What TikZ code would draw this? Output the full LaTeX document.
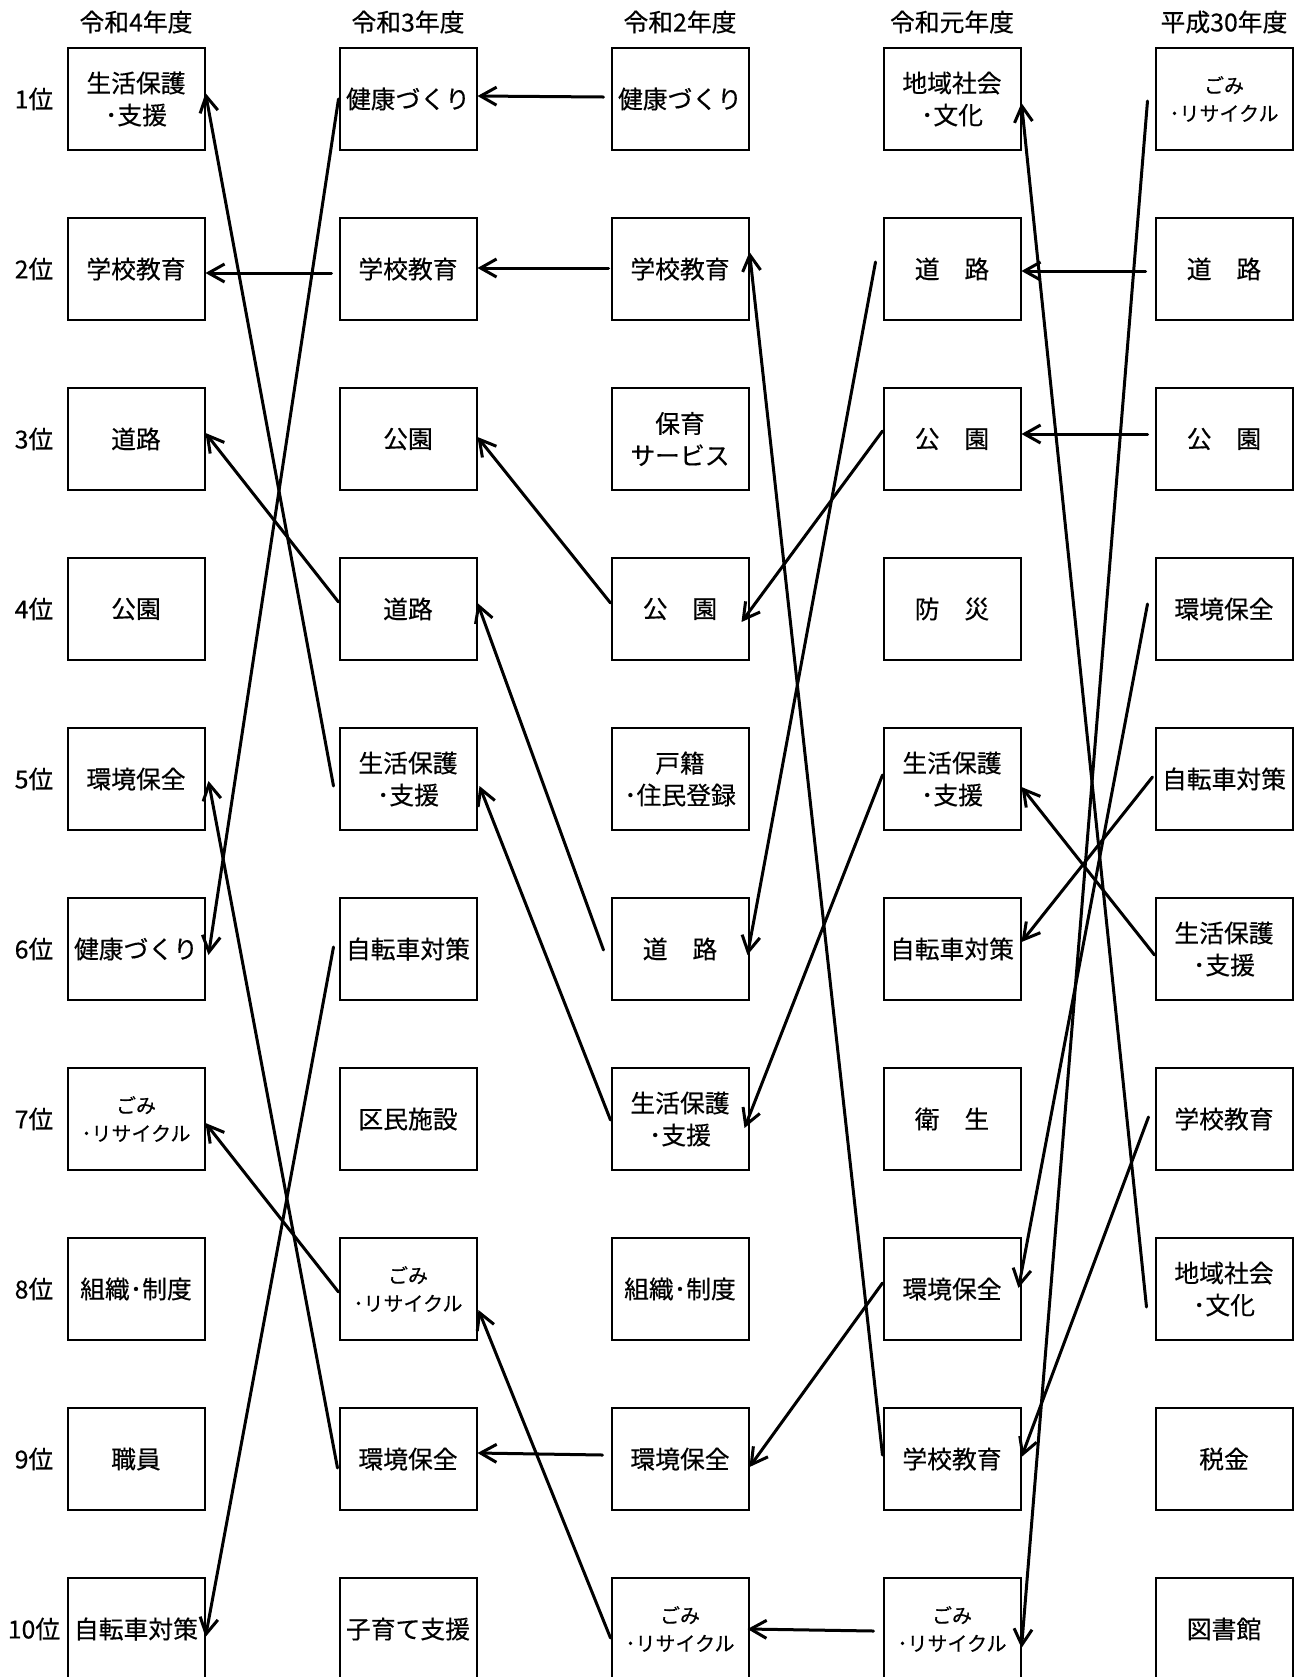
\documentclass[tikz,border=0pt]{standalone}
\usepackage{fontspec}
\setmainfont{Noto Sans CJK JP}[FakeBold=0.4]
\usepackage{tikz}
\usetikzlibrary{arrows.meta,calc}
\tikzset{
  every picture/.style={line join=round, line cap=round, >=Stealth},
  box/.style={draw, line width=1pt, line join=miter, minimum width=68.5pt, minimum height=51pt, inner sep=0pt, align=center},
  txt/.style={font=\fontsize{12.4}{16}\selectfont},
  gomi/.style={font=\fontsize{10}{14}\selectfont},
  arr/.style={-{Straight Barb[length=8pt,width=9pt]}, line width=1.5pt},
}

\begin{document}
\begin{tikzpicture}[x=0.5pt,y=-0.5pt,font=\fontsize{12.4}{16}\selectfont]
\useasboundingbox (0,0) rectangle (1304,1677);
\foreach \t [count=\i] in {令和4年度,令和3年度,令和2年度,令和元年度,平成30年度}
  \node (h\i) at ({136+272*(\i-1)},22) {\t};
\foreach \i in {1,...,10}
  \node[inner sep=0pt] (k\i) at (34,{99+170*(\i-1)}) {{\i}位};
\foreach \s/\t [count=\i] in {txt/{生活保護\\･支援},txt/学校教育,txt/道路,txt/公園,txt/環境保全,txt/健康づくり,gomi/{ごみ\\･リサイクル},txt/組織･制度,txt/職員,txt/自転車対策}
  \node[box,\s] (a\i) at (136,{99+170*(\i-1)}) {\t};
\foreach \s/\t [count=\i] in {txt/健康づくり,txt/学校教育,txt/公園,txt/道路,txt/{生活保護\\･支援},txt/自転車対策,txt/区民施設,gomi/{ごみ\\･リサイクル},txt/環境保全,txt/子育て支援}
  \node[box,\s] (b\i) at (408,{99+170*(\i-1)}) {\t};
\foreach \s/\t [count=\i] in {txt/健康づくり,txt/学校教育,txt/{保育\\サービス},txt/公　園,txt/{戸籍\\･住民登録},txt/道　路,txt/{生活保護\\･支援},txt/組織･制度,txt/環境保全,gomi/{ごみ\\･リサイクル}}
  \node[box,\s] (c\i) at (680,{99+170*(\i-1)}) {\t};
\foreach \s/\t [count=\i] in {txt/{地域社会\\･文化},txt/道　路,txt/公　園,txt/防　災,txt/{生活保護\\･支援},txt/自転車対策,txt/衛　生,txt/環境保全,txt/学校教育,gomi/{ごみ\\･リサイクル}}
  \node[box,\s] (d\i) at (952,{99+170*(\i-1)}) {\t};
\foreach \s/\t [count=\i] in {gomi/{ごみ\\･リサイクル},txt/道　路,txt/公　園,txt/環境保全,txt/自転車対策,txt/{生活保護\\･支援},txt/学校教育,txt/{地域社会\\･文化},txt/税金,txt/図書館}
  \node[box,\s] (e\i) at (1224,{99+170*(\i-1)}) {\t};

\draw[arr] (b1.west) -- ($(a6.east)+(3,6)$);
\draw[arr] ($(b2.west)+(-7,4)$) -- ($(a2.east)+(0,4)$);
\draw[arr] ($(b4.west)+(0,-7)$) -- ($(a3.east)+(0,-6)$);
\draw[arr] ($(b5.west)+(-5,7)$) -- ($(a1.east)+(0,-6)$);
\draw[arr] ($(b9.west)+(-1,9)$) -- ($(a5.east)+(3,2)$);
\draw[arr] ($(b8.west)+(0,3)$) -- ($(a7.east)+(0,4)$);
\draw[arr] ($(b6.west)+(-5,-2)$) -- ($(a10.east)+(0,8)$);

\draw[arr] ($(c1.west)+(-7,-2)$) -- ($(b1.east)+(0,-3)$);
\draw[arr] ($(c2.west)+(-2,-1)$) -- ($(b2.east)+(0,-1)$);
\draw[arr] ($(c4.west)+(0,-6)$) -- ($(b3.east)+(0,-2)$);
\draw[arr] ($(c6.west)+(-7,1)$) -- ($(b4.east)+(0,-6)$);
\draw[arr] ($(c7.west)+(0,1)$) -- ($(b5.east)+(2,7)$);
\draw[arr] ($(c9.west)+(-8,-4)$) -- ($(b9.east)+(0,-6)$);
\draw[arr] ($(c10.west)+(0,9)$) -- ($(b8.east)+(1,21)$);

\draw[arr] ($(d2.west)+(-7,-7)$) -- ($(c6.east)+(-2,6)$);
\draw[arr] ($(d3.west)+(0,-8)$) -- ($(c4.east)+(-8,13)$);
\draw[arr] ($(d5.west)+(0,-4)$) -- ($(c7.east)+(-5,9)$);
\draw[arr] ($(d8.west)+(0,-6)$) -- ($(c9.east)+(0,8)$);
\draw[arr] ($(d9.west)+(0,-4)$) -- ($(c2.east)+(0,-17)$);
\draw[arr] ($(d10.west)+(-9,2)$) -- ($(c10.east)+(-2,0)$);

\draw[arr] ($(e1.west)+(-7,2)$) -- ($(d10.east)+(0,19)$);
\draw[arr] ($(e2.west)+(-9,2)$) -- ($(d2.east)+(0,2)$);
\draw[arr] ($(e3.west)+(-7,-5)$) -- ($(d3.east)+(0,-5)$);
\draw[arr] ($(e4.west)+(-7,-5)$) -- ($(d8.east)+(-3,-1)$);
\draw[arr] ($(e5.west)+(-2,-2)$) -- ($(d6.east)+(0,-7)$);
\draw[arr] ($(e6.west)+(0,6)$) -- ($(d5.east)+(0,8)$);
\draw[arr] ($(e7.west)+(-6,-2)$) -- ($(d9.east)+(0,-2)$);
\draw[arr] ($(e8.west)+(-8,18)$) -- ($(d1.east)+(0,4)$);
\end{tikzpicture}
\end{document}
